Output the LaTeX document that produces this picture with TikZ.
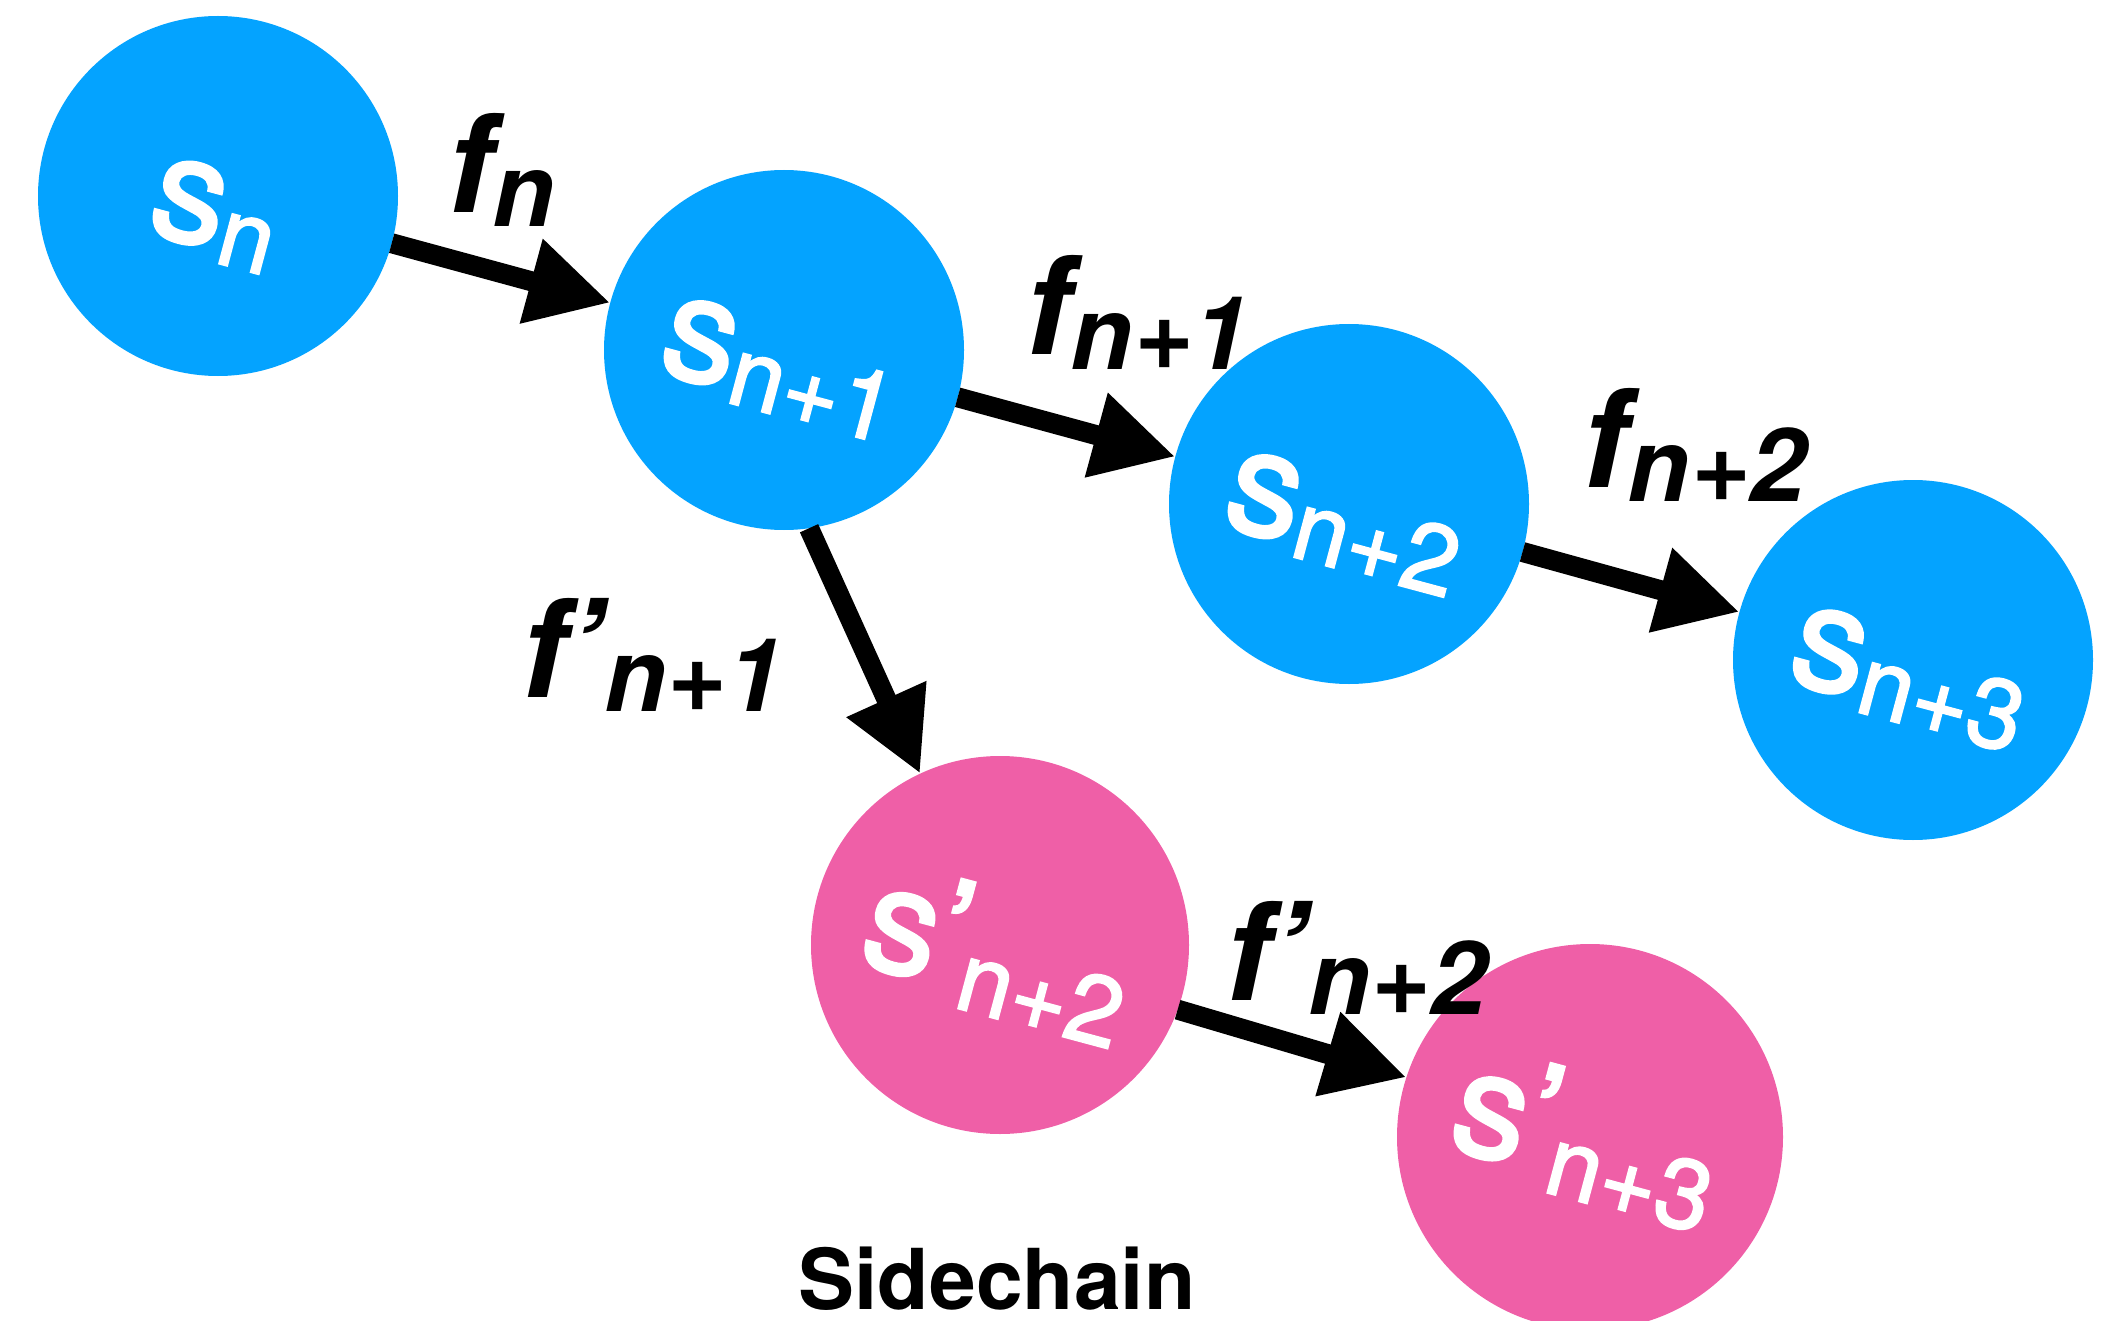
\documentclass[tikz,border=0pt]{standalone}
\usepackage{fontspec}
\setmainfont{TeX Gyre Heros}
\newfontfamily\stfont{TeX Gyre Heros}[FakeBold=2]
\usepackage{tikz}
\usetikzlibrary{arrows.meta}
\definecolor{chainblue}{RGB}{4,163,255}
\definecolor{sidepink}{RGB}{239,95,167}
\newcommand{\stlab}[3]{\stfont\fontsize{74}{74}\selectfont s#1\lower#3\hbox{\fontsize{49}{49}\selectfont #2}}
\newcommand{\edlab}[2]{\bfseries\itshape\fontsize{68}{68}\selectfont f#1\lower7pt\hbox{\fontsize{51}{51}\selectfont #2}}

\begin{document}
\begin{tikzpicture}[
    x=0.5pt, y=-0.5pt,
    mainst/.style={circle, fill=chainblue, minimum size=180pt, inner sep=0pt, outer sep=0pt},
    sidest/.style={circle, fill=sidepink, minimum size=189pt, inner sep=0pt, outer sep=0pt},
    sttext/.style={text=white, rotate=-15, inner sep=0pt},
    edtext/.style={anchor=base west, inner sep=0pt},
    trans/.style={line width=10pt, -{Triangle[length=41pt, width=41pt]}}
]
    \useasboundingbox (0,0) rectangle (2126,1321);

    % メインチェーン
    \node[mainst] (sn) at (218,196) {};
    \node[mainst] (sn1) at (784,350) {};
    \node[mainst] (sn2) at (1349,504) {};
    \node[mainst] (sn3) at (1913,660) {};
    % サイドチェーン
    \node[sidest] (sp2) at (1000,945) {};
    \node[sidest, minimum size=193pt] (sp3) at (1590,1137) {};

    \node[sttext] (sn-t) at (215,215) {\stlab{}{n}{6pt}};
    \node[sttext] (sn1-t) at (780,369) {\stlab{}{n+1}{6pt}};
    \node[sttext] (sn2-t) at (1344,523) {\stlab{}{n+2}{6pt}};
    \node[sttext] (sn3-t) at (1909,679) {\stlab{}{n+3}{6pt}};
    \node[sttext] (sp2-t) at (998,954) {\stlab{’}{n+2}{9pt}};
    \node[sttext] (sp3-t) at (1587,1139) {\stlab{’}{n+3}{9pt}};

    \node[edtext] (fn) at (447,213) {\edlab{}{n}};
    \node[edtext] (fn1) at (1025,355) {\edlab{}{n+1}};
    \node[edtext] (fn2) at (1582,487) {\edlab{}{n+2}};
    \node[edtext] (fpn1) at (521,697) {\edlab{’}{n+1}};
    \node[edtext] (fpn2) at (1225,1000) {\edlab{’}{n+2}};

    \node[anchor=base, inner sep=0pt, font={\bfseries\fontsize{42}{42}\selectfont}] (side) at (997,1309) {Sidechain};

    \path[draw, trans] (sn) -- (sn1);
    \path[draw, trans] (sn1) -- (sn2);
    \path[draw, trans] (sn2) -- (sn3);
    % 分岐
    \path[draw, trans] (sn1.-82) -- (sp2.115);
    \path[draw, trans] (sp2.-20) -- (sp3.162);
\end{tikzpicture}
\end{document}
